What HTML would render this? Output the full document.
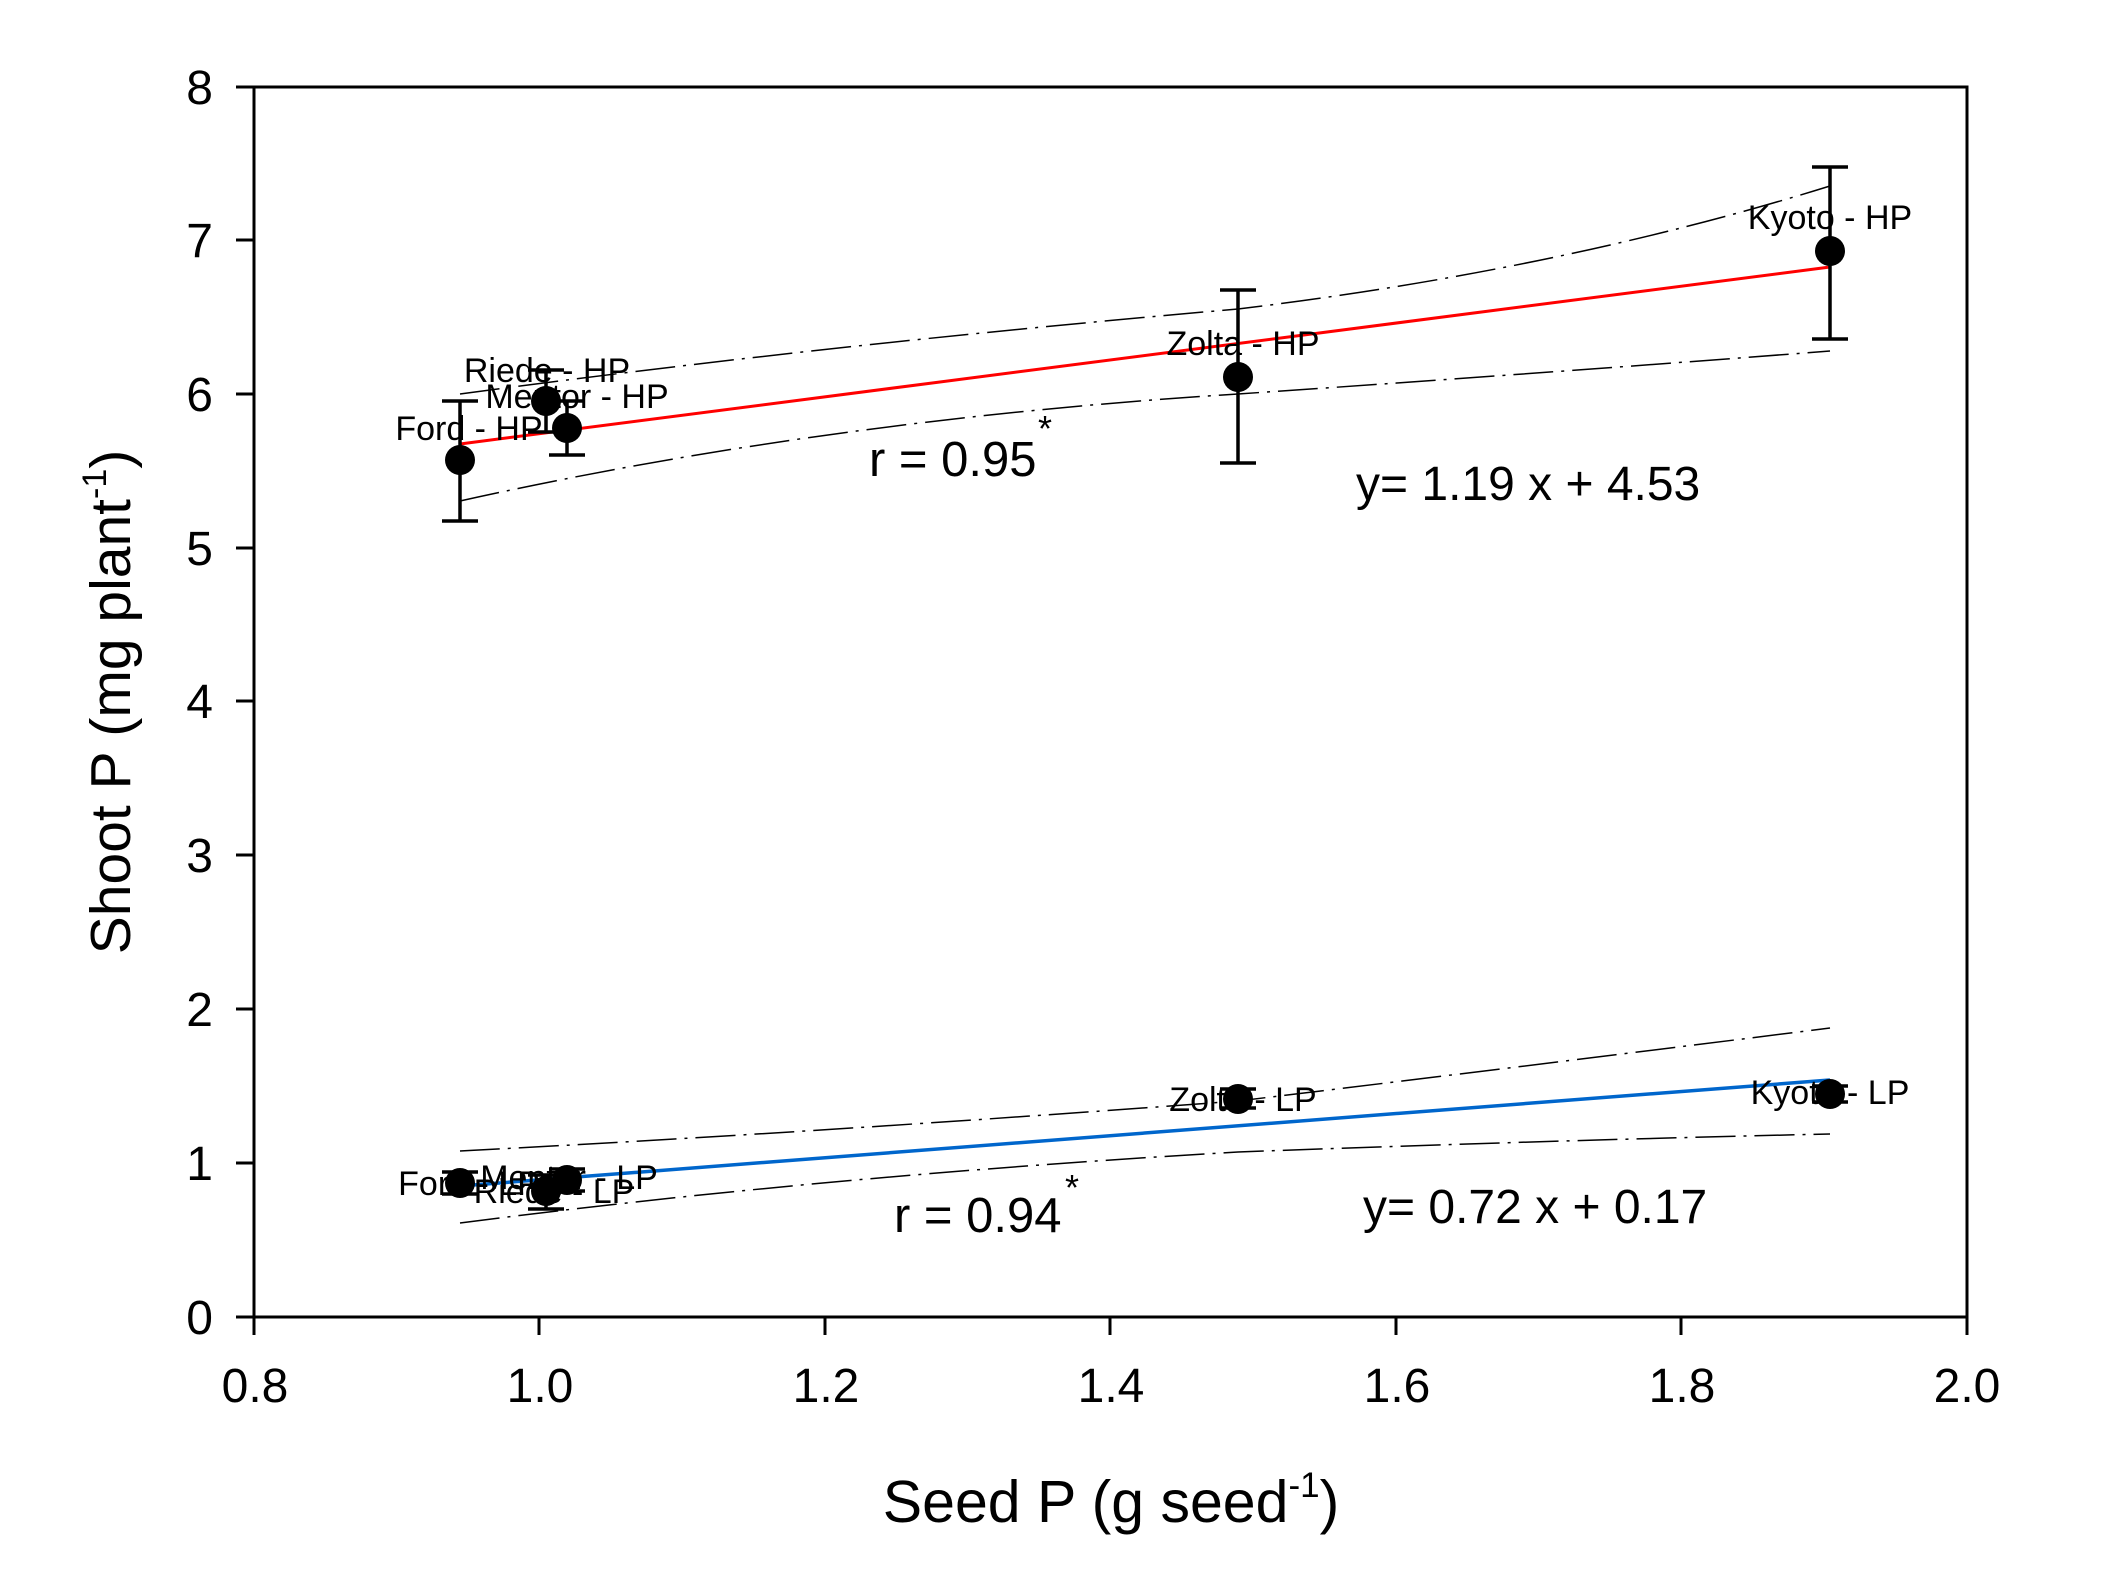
<!DOCTYPE html>
<html><head><meta charset="utf-8"><style>html,body{margin:0;padding:0;background:#fff}svg{display:block}</style></head>
<body>
<svg width="2118" height="1584" viewBox="0 0 2118 1584" xmlns="http://www.w3.org/2000/svg" font-family="Liberation Sans, Arial, sans-serif">
<rect width="2118" height="1584" fill="#fff"/>
<rect x="254" y="87" width="1713" height="1230" fill="none" stroke="#000" stroke-width="3"/>
<g stroke="#000" stroke-width="3">
<line x1="236" y1="1317" x2="254" y2="1317"/><line x1="236" y1="1163" x2="254" y2="1163"/>
<line x1="236" y1="1009" x2="254" y2="1009"/><line x1="236" y1="855" x2="254" y2="855"/>
<line x1="236" y1="701" x2="254" y2="701"/><line x1="236" y1="548" x2="254" y2="548"/>
<line x1="236" y1="394" x2="254" y2="394"/><line x1="236" y1="240" x2="254" y2="240"/>
<line x1="236" y1="87" x2="254" y2="87"/>
<line x1="254" y1="1317" x2="254" y2="1335"/><line x1="539" y1="1317" x2="539" y2="1335"/>
<line x1="825" y1="1317" x2="825" y2="1335"/><line x1="1110" y1="1317" x2="1110" y2="1335"/>
<line x1="1396" y1="1317" x2="1396" y2="1335"/><line x1="1681" y1="1317" x2="1681" y2="1335"/>
<line x1="1967" y1="1317" x2="1967" y2="1335"/>
</g>
<g font-size="48" text-anchor="end" fill="#000">
<text x="213" y="1334">0</text><text x="213" y="1180">1</text><text x="213" y="1026">2</text>
<text x="213" y="872">3</text><text x="213" y="718">4</text><text x="213" y="565">5</text>
<text x="213" y="411">6</text><text x="213" y="257">7</text><text x="213" y="104">8</text>
</g>
<g font-size="48" text-anchor="middle" fill="#000">
<text x="255" y="1402">0.8</text><text x="540" y="1402">1.0</text><text x="826" y="1402">1.2</text>
<text x="1111" y="1402">1.4</text><text x="1397" y="1402">1.6</text><text x="1682" y="1402">1.8</text>
<text x="1967" y="1402">2.0</text>
</g>
<text x="1111" y="1522" font-size="59" text-anchor="middle">Seed P (g seed<tspan font-size="35" dy="-25">-1</tspan><tspan dy="25">)</tspan></text>
<text transform="translate(130,702) rotate(-90)" font-size="57" text-anchor="middle">Shoot P (mg plant<tspan font-size="34" dy="-24">-1</tspan><tspan dy="24">)</tspan></text>
<g fill="none" stroke="#000" stroke-width="1.5" stroke-dasharray="40,8,3,8">
<path d="M460,394 Q824,345 1238,309 Q1560,270 1830,186"/>
<path d="M460,501 Q824,420 1238,394 Q1560,372 1830,351"/>
<path d="M460,1151 Q824,1132 1238,1101 Q1560,1062 1830,1028"/>
<path d="M460,1223 Q824,1176 1238,1152 Q1560,1140 1830,1134"/>
</g>
<line x1="460" y1="444" x2="1830" y2="267" stroke="#ff0000" stroke-width="3"/>
<line x1="460" y1="1186" x2="1830" y2="1080" stroke="#0066cc" stroke-width="3.5"/>
<g stroke="#000" stroke-width="3.5">
<path d="M460,401V521M442,401H478M442,521H478"/>
<path d="M546,370V432M528,370H564M528,432H564"/>
<path d="M567,401V455M549,401H585M549,455H585"/>
<path d="M1238,290V463M1220,290H1256M1220,463H1256"/>
<path d="M1830,167V339M1812,167H1848M1812,339H1848"/>
<path d="M460,1172V1194M442,1172H478M442,1194H478"/>
<path d="M546,1175V1209M528,1175H564M528,1209H564"/>
<path d="M567,1169V1191M549,1169H585M549,1191H585"/>
<path d="M1238,1089V1108M1220,1089H1256M1220,1108H1256"/>
<path d="M1830,1086V1102M1812,1086H1848M1812,1102H1848"/>
</g>
<g fill="#000">
<circle cx="460" cy="460" r="15"/><circle cx="546" cy="401" r="15"/><circle cx="567" cy="428" r="15"/>
<circle cx="1238" cy="377" r="15"/><circle cx="1830" cy="251" r="15"/>
<circle cx="460" cy="1183" r="15"/><circle cx="546" cy="1191" r="15"/><circle cx="567" cy="1180" r="15"/>
<circle cx="1238" cy="1099" r="15"/><circle cx="1830" cy="1094" r="15"/>
</g>
<g font-size="34" text-anchor="middle" fill="#000">
<text x="1830" y="229">Kyoto - HP</text>
<text x="1243" y="355">Zolta - HP</text>
<text x="547" y="382">Riede - HP</text>
<text x="577" y="408">Mentor - HP</text>
<text x="469" y="440">Ford - HP</text>
<text x="1243" y="1111">Zolta - LP</text>
<text x="1830" y="1104">Kyoto - LP</text>
<text x="469" y="1195">Ford - LP</text>
<text x="569" y="1189">Mentor - LP</text>
<text x="554" y="1203">Riede - LP</text>
</g>
<g font-size="49" fill="#000">
<text x="869" y="476">r = 0.95</text>
<text x="1038" y="441" font-size="36">*</text>
<text x="1356" y="500" font-size="48">y= 1.19 x + 4.53</text>
<text x="894" y="1232">r = 0.94</text>
<text x="1065" y="1200" font-size="36">*</text>
<text x="1363" y="1223" font-size="48">y= 0.72 x + 0.17</text>
</g>
</svg>
</body></html>
